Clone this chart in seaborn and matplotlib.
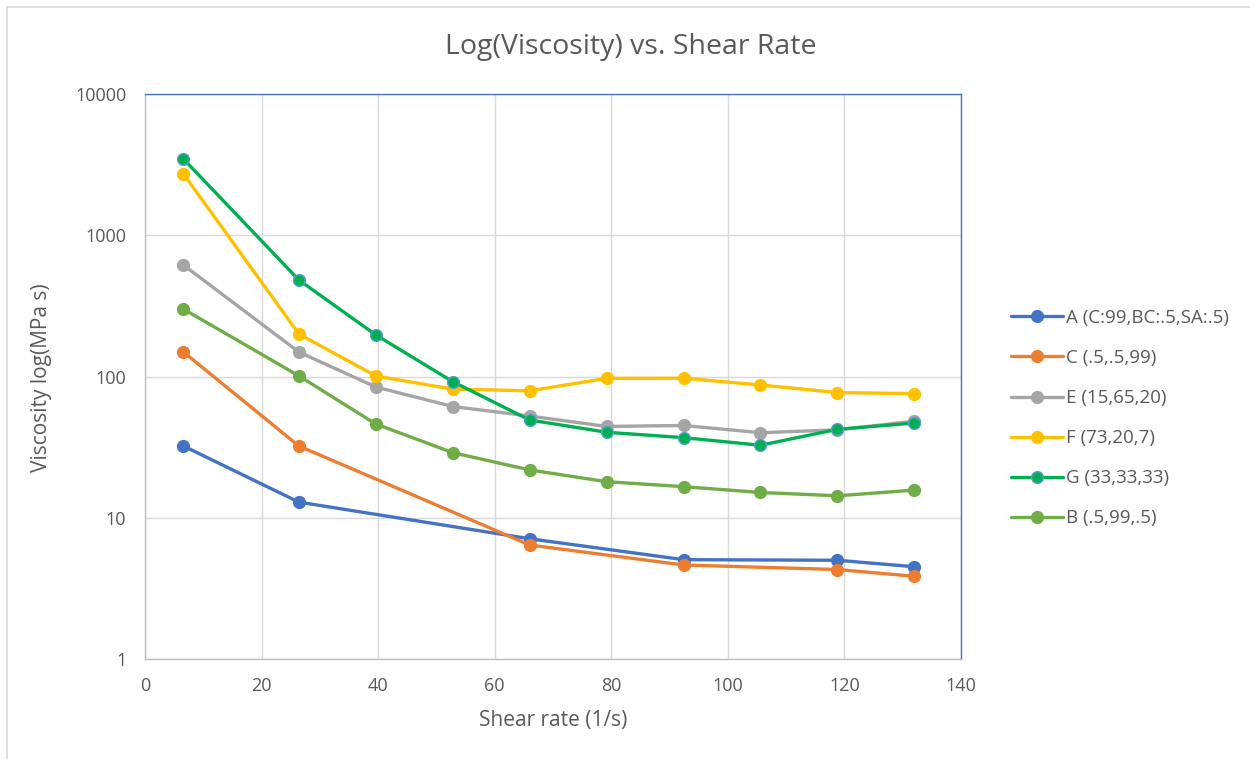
import numpy as np
import pandas as pd
import matplotlib
matplotlib.use("Agg")
import matplotlib.pyplot as plt
from matplotlib.lines import Line2D
import seaborn as sns

x_full = [6.6, 26.4, 39.6, 52.8, 66, 79.2, 92.4, 105.6, 118.8, 132]
x_part = [6.6, 26.4, 66, 92.4, 118.8, 132]

A = [32.2, 12.9, 7.1, 5.05, 5.0, 4.5]
C = [149, 32.2, 6.41, 4.63, 4.3, 3.85]
E = [615, 149, 84.3, 61.3, 52.5, 44.3, 45.0, 40.0, 41.9, 48.3]
F = [2716, 200, 100.8, 81.4, 79.2, 97.0, 97.2, 87.1, 77.0, 75.6]
G = [3467, 482, 197, 91.9, 49.2, 40.3, 36.9, 32.6, 42.3, 46.8]
B = [300, 101, 46.1, 28.9, 21.8, 18.0, 16.6, 15.1, 14.3, 15.7]

names = ["A (C:99,BC:.5,SA:.5)", "C (.5,.5,99)", "E (15,65,20)",
         "F (73,20,7)", "G (33,33,33)", "B (.5,99,.5)"]
colors = ["#4472C4", "#ED7D31", "#A5A5A5", "#FFC000", "#00B050", "#70AD47"]
edges = ["#4472C4", "#ED7D31", "#A5A5A5", "#FFC000", "#5B9BD5", "#70AD47"]
series = [(x_part, A), (x_part, C), (x_full, E), (x_full, F), (x_full, G), (x_full, B)]

sns.set_theme(style="white")
plt.rcParams['font.family'] = ['Open Sans', 'DejaVu Sans']

fig = plt.figure(figsize=(12.5, 7.59), dpi=100)
ax = fig.add_axes([145/1250, 1-659/759, (961-145)/1250, (659-94)/759])

handles = []
for (xs, ys), nm, c, ec in zip(series, names, colors, edges):
    df = pd.DataFrame({"x": xs, "y": ys})
    sns.lineplot(data=df, x="x", y="y", ax=ax, color=c, linewidth=2.4,
                 marker="o", markersize=8.5, markerfacecolor=c,
                 markeredgecolor=ec, markeredgewidth=1.0, zorder=3)
    handles.append(Line2D([0], [0], color=c, linewidth=2.4, marker="o",
                          markersize=8.5, markerfacecolor=c,
                          markeredgecolor=ec, markeredgewidth=1.0))

ax.set_yscale("log")
ax.set_ylim(1, 10000)
ax.set_xlim(0, 140)
ax.set_xticks(range(0, 141, 20))
ax.set_yticks([1, 10, 100, 1000, 10000])
ax.set_yticklabels(["1", "10", "100", "1000", "10000"])
ax.yaxis.set_minor_locator(matplotlib.ticker.NullLocator())
ax.grid(True, which="major", color="#D9D9D9", linewidth=1.0)
ax.set_axisbelow(True)
ax.tick_params(axis="both", labelsize=13, colors="#595959", length=0)
ax.tick_params(axis="x", pad=13)
ax.tick_params(axis="y", pad=13.5)
for s in ["left", "bottom"]:
    ax.spines[s].set_color("#BFBFBF")
    ax.spines[s].set_linewidth(1.0)
for s in ["top", "right"]:
    ax.spines[s].set_color("#4472C4")
    ax.spines[s].set_linewidth(1.0)

ax.set_xlabel("Shear rate (1/s)", fontsize=15, color="#595959")
ax.set_ylabel("Viscosity log(MPa s)", fontsize=15, color="#595959")
ax.xaxis.set_label_coords(553/1250, 1-710/759, transform=fig.transFigure)
ax.yaxis.set_label_coords(52/1250, 1-378/759, transform=fig.transFigure)

fig.text(631/1250, 1-47/759, "Log(Viscosity) vs. Shear Rate", ha="center",
         va="center", fontsize=20.5, color="#595959")

leg = fig.legend(handles, names, loc="upper left",
                 bbox_to_anchor=(994/1250, 1-292/759), frameon=False,
                 fontsize=13.5, labelcolor="#595959", handlelength=2.77,
                 handletextpad=0.15, labelspacing=1.18)

fig.add_artist(Line2D([7/1250, 1.0], [1-7/759, 1-7/759], transform=fig.transFigure,
                      color="#D9D9D9", linewidth=1.2))
fig.add_artist(Line2D([7/1250, 7/1250], [0, 1-7/759], transform=fig.transFigure,
                      color="#D9D9D9", linewidth=1.2))

fig.savefig("out.png", dpi=100)
